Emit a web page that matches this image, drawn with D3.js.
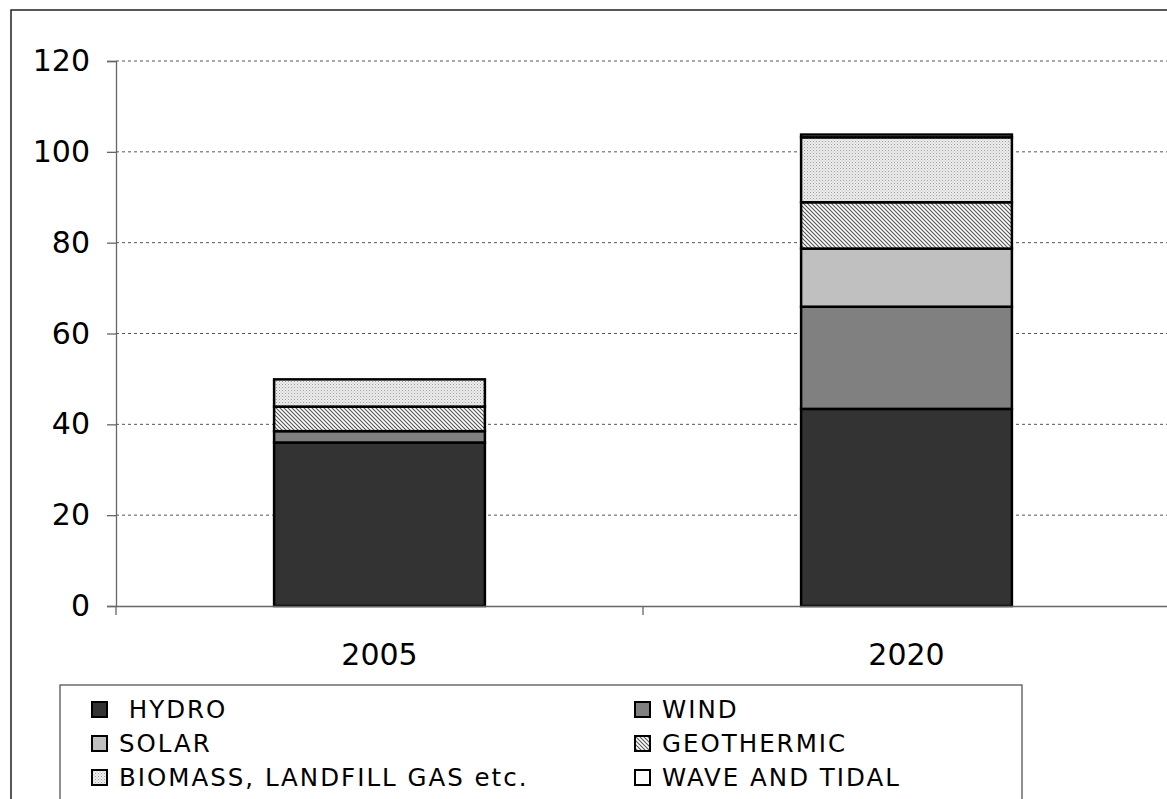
<!DOCTYPE html>
<html>
<head>
<meta charset="utf-8">
<script src="https://cdn.jsdelivr.net/npm/d3@7"></script>
<style>
  body { margin: 0; background: #fff; }
  svg { display: block; font-family: "DejaVu Sans", sans-serif; }
</style>
</head>
<body>
<div id="chart"></div>
<script>
// Chart data.
const years = ["2005", "2020"];
const seriesNames = [" HYDRO", "WIND", "SOLAR", "GEOTHERMIC", "BIOMASS, LANDFILL GAS etc.", "WAVE AND TIDAL"];
const hydro = [36.0, 43.4];
const wind = [2.5, 22.5];
const solar = [0, 12.8];
const geothermic = [5.4, 10.2];
const biomass = [6.0, 14.3];
const waveTidal = [0, 0.6];
const yTicks = [0, 20, 40, 60, 80, 100, 120];

const width = 1167;
const height = 799;
const margin = { top: 61, right: -3, bottom: 192, left: 116 };

const svg = d3.select("#chart")
  .append("svg")
  .attr("width", width)
  .attr("height", height);

// Patterns for the hatched series.
const defs = svg.append("defs");
const hatch = defs.append("pattern")
  .attr("id", "hatch")
  .attr("patternUnits", "userSpaceOnUse")
  .attr("width", 4)
  .attr("height", 4);
hatch.append("rect").attr("width", 4).attr("height", 4).attr("fill", "#fff");
hatch.append("path")
  .attr("d", "M-1,-1 L5,5 M-1,3 L1,5 M3,-1 L5,1")
  .attr("stroke", "#555")
  .attr("stroke-width", 1.1);

const dots = defs.append("pattern")
  .attr("id", "dots")
  .attr("patternUnits", "userSpaceOnUse")
  .attr("width", 3)
  .attr("height", 3);
dots.append("rect").attr("width", 3).attr("height", 3).attr("fill", "#ececec");
dots.append("rect").attr("width", 1).attr("height", 1).attr("fill", "#a0a0a0");
dots.append("rect").attr("x", 1.5).attr("y", 1.5).attr("width", 1).attr("height", 1).attr("fill", "#c0c0c0");

const fills = ["#333333", "#808080", "#c0c0c0", "url(#hatch)", "url(#dots)", "#ffffff"];

// Build the table for stacking.
const table = years.map(function(y, i) {
  return { year: y, s0: hydro[i], s1: wind[i], s2: solar[i], s3: geothermic[i], s4: biomass[i], s5: waveTidal[i] };
});
const keys = ["s0", "s1", "s2", "s3", "s4", "s5"];
const stacked = d3.stack().keys(keys)(table);

// Outer frame.
svg.append("rect")
  .attr("x", 11)
  .attr("y", 10)
  .attr("width", 1200)
  .attr("height", 900)
  .attr("fill", "none")
  .attr("stroke", "#222")
  .attr("stroke-width", 1.5);

// Scales.
const x = d3.scaleBand()
  .domain(years)
  .range([margin.left, width - margin.right])
  .padding(0);

const y = d3.scaleLinear()
  .domain([0, 120])
  .range([height - margin.bottom - 1, margin.top]);

// Grid lines.
svg.append("g")
  .selectAll("line")
  .data(yTicks.slice(1))
  .enter()
  .append("line")
  .attr("x1", margin.left)
  .attr("x2", width)
  .attr("y1", function(d) { return y(d); })
  .attr("y2", function(d) { return y(d); })
  .attr("stroke", "#555")
  .attr("stroke-width", 1)
  .attr("stroke-dasharray", "3,3");

// Bars.
const barW = x.bandwidth() * 0.4;
svg.append("g")
  .selectAll("g")
  .data(stacked)
  .enter()
  .append("g")
  .attr("fill", function(d, i) { return fills[i]; })
  .selectAll("rect")
  .data(function(d) { return d.filter(function(p) { return p[1] - p[0] > 0; }); })
  .enter()
  .append("rect")
  .attr("x", function(d) { return x(d.data.year) + (x.bandwidth() - barW) / 2; })
  .attr("y", function(d) { return y(d[1]); })
  .attr("width", barW)
  .attr("height", function(d) { return y(d[0]) - y(d[1]); })
  .attr("stroke", "#000")
  .attr("stroke-width", 2.5);

// Y axis.
const yAxis = svg.append("g")
  .attr("transform", "translate(" + margin.left + ",0)")
  .call(d3.axisLeft(y).tickValues(yTicks).tickSize(9).tickPadding(17));
yAxis.select(".domain").attr("stroke", "#666").attr("stroke-width", 1.3);
yAxis.selectAll(".tick line").attr("stroke", "#666").attr("stroke-width", 1.3);
yAxis.selectAll("text")
  .attr("font-family", "DejaVu Sans")
  .attr("font-size", 30)
  .attr("fill", "#000");

// X axis with ticks between the categories.
const x0 = y(0);
const xAxis = svg.append("g")
  .attr("transform", "translate(0," + x0 + ")")
  .call(d3.axisBottom(x).tickSize(0).tickPadding(38));
xAxis.select(".domain").attr("stroke", "#666").attr("stroke-width", 1.3);
xAxis.selectAll("text")
  .attr("font-family", "DejaVu Sans")
  .attr("font-size", 30)
  .attr("fill", "#000");
const bounds = [x(years[0]), x(years[1]), x(years[1]) + x.bandwidth()];
xAxis.selectAll(".bound")
  .data(bounds)
  .enter()
  .append("line")
  .attr("x1", function(d) { return d; })
  .attr("x2", function(d) { return d; })
  .attr("y1", 0)
  .attr("y2", 9)
  .attr("stroke", "#666")
  .attr("stroke-width", 1.3);

// Legend.
const legend = svg.append("g");
legend.append("rect")
  .attr("x", 60)
  .attr("y", 685)
  .attr("width", 962)
  .attr("height", 200)
  .attr("fill", "#fff")
  .attr("stroke", "#555")
  .attr("stroke-width", 1.3);

const items = legend.selectAll(".item")
  .data(seriesNames)
  .enter()
  .append("g")
  .attr("transform", function(d, i) {
    const col = i % 2;
    const row = Math.floor(i / 2);
    return "translate(" + (col === 0 ? 92 : 635) + "," + (702 + row * 34) + ")";
  });
items.append("rect")
  .attr("width", 15)
  .attr("height", 15)
  .attr("fill", function(d, i) { return fills[i]; })
  .attr("stroke", "#000")
  .attr("stroke-width", 2);
items.append("text")
  .attr("x", 27)
  .attr("y", 16)
  .attr("font-size", 24.5)
  .attr("letter-spacing", 2)
  .attr("xml:space", "preserve")
  .style("white-space", "pre")
  .text(function(d) { return d; });
</script>
</body>
</html>
